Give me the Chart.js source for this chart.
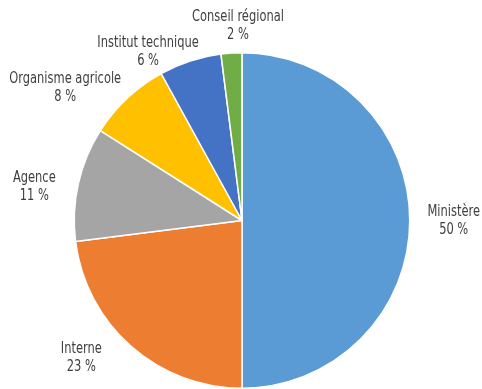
<!DOCTYPE html>
<html>
<head>
<meta charset="utf-8">
<script src="https://cdn.jsdelivr.net/npm/chart.js@4/dist/chart.umd.min.js"></script>
<style>
  html, body { margin: 0; padding: 0; background: #fff; }
  canvas { display: block; }
</style>
</head>
<body>
<canvas id="camembert" width="482" height="389"></canvas>
<script>
const categories = ["Ministère", "Interne", "Agence", "Organisme agricole", "Institut technique", "Conseil régional"];
const parts = [50, 23, 11, 8, 6, 2];
const couleurs = ["#5B9BD5", "#ED7D31", "#A5A5A5", "#FFC000", "#4472C4", "#70AD47"];

// position du centre de chaque étiquette, en rayons, par rapport au centre du camembert
const placementEtiquettes = [
    [1.262, 0.006],
    [-0.958, 0.821],
    [-1.238, -0.202],
    [-1.054, -0.792],
    [-0.560, -1.006],
    [-0.024, -1.161],
];

// police étroite : on resserre horizontalement
const resserrement = 0.85;

const etiquettes = {
    id: "etiquettes",
    afterDatasetsDraw(chart) {
        const ctx = chart.ctx;
        const meta = chart.getDatasetMeta(0);
        meta.data.forEach((arc, i) => {
            const r = arc.outerRadius;
            const [fx, fy] = placementEtiquettes[i];
            const x = arc.x + fx * r;
            const y = arc.y + fy * r;
            ctx.save();
            ctx.translate(x, y);
            ctx.scale(resserrement, 1);
            ctx.font = "15px 'DejaVu Sans Condensed', 'DejaVu Sans', sans-serif";
            ctx.fillStyle = "#404040";
            ctx.textAlign = "center";
            ctx.textBaseline = "middle";
            ctx.fillText(categories[i], 0, -9);
            ctx.fillText(parts[i] + " %", 0, 9);
            ctx.restore();
        });
    },
};

new Chart(document.getElementById("camembert"), {
    type: "pie",
    data: {
        labels: categories,
        datasets: [
            {
                data: parts,
                backgroundColor: couleurs,
                borderColor: "#ffffff",
                borderWidth: 1.5,
            },
        ],
    },
    options: {
        responsive: false,
        animation: false,
        layout: {
            padding: { top: 52, bottom: 0, left: 73, right: 71 },
        },
        plugins: {
            legend: { display: false },
            tooltip: { enabled: false },
        },
    },
    plugins: [etiquettes],
});
</script>
</body>
</html>
